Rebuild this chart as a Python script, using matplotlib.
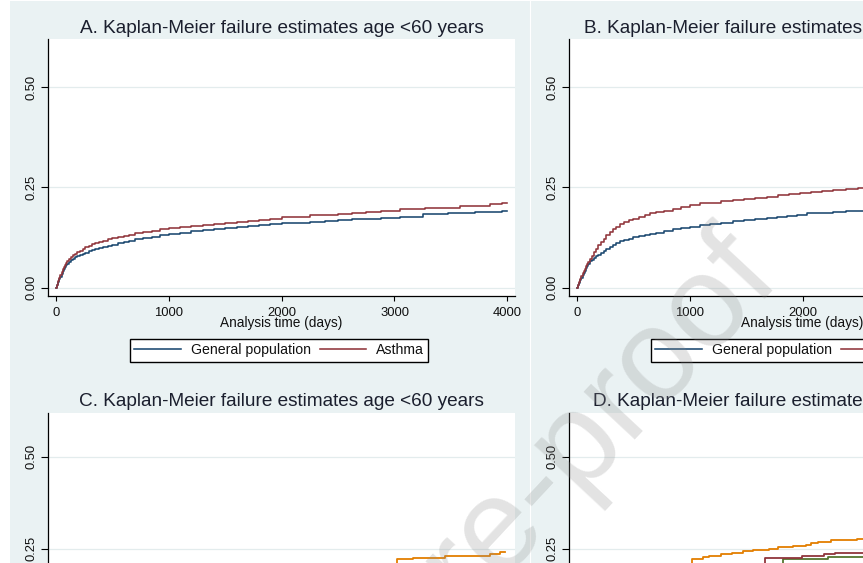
import matplotlib
matplotlib.use("Agg")
import matplotlib.pyplot as plt
from matplotlib.patches import Rectangle
from matplotlib.lines import Line2D

plt.rcParams["font.family"] = ["Liberation Sans", "DejaVu Sans"]

# ---------------- data ----------------
legend_labels = ["General population", "Asthma"]
x_ticks = [0, 1000, 2000, 3000, 4000]
y_ticks = [0.0, 0.25, 0.50]
y_tick_labels = ["0.00", "0.25", "0.50"]
x_label = "Analysis time (days)"
titles = ["A. Kaplan-Meier failure estimates age <60 years",
          "B. Kaplan-Meier failure estimates age >=60 years",
          "C. Kaplan-Meier failure estimates age <60 years",
          "D. Kaplan-Meier failure estimates age >=60 years"]
watermark = "Journal Pre-proof"

a_general_days = [0, 10, 20, 30, 40, 50, 60, 70, 80, 90, 100, 115, 130, 150,
                  170, 190, 210, 235, 260, 290, 320, 350, 385, 420, 460, 500,
                  550, 600, 650, 700, 775, 850, 925, 1000, 1100, 1200, 1300,
                  1400, 1500, 1600, 1700, 1800, 1900, 2000, 2120, 2250, 2380,
                  2500, 2620, 2750, 2880, 3050, 3256, 3478, 3714, 3949, 4000]
a_general = [0, .006, .013, .020, .027, .034, .040, .046, .051, .055, .059,
             .064, .068, .072, .075, .078, .081, .084, .087, .090, .093, .095,
             .098, .101, .104, .107, .110, .114, .117, .120, .124, .127, .131,
             .134, .137, .140, .143, .146, .148, .150, .153, .155, .158, .160,
             .162, .164, .166, .168, .170, .172, .174, .177, .183, .187, .189,
             .192, .192]

a_asthma_days = [0, 10, 20, 30, 40, 50, 60, 70, 80, 90, 100, 115, 130, 150,
                 170, 190, 210, 235, 260, 290, 320, 350, 385, 420, 460, 500,
                 550, 600, 650, 700, 775, 850, 925, 1000, 1100, 1200, 1300,
                 1400, 1500, 1600, 1700, 1800, 1900, 2000, 2120, 2250, 2380,
                 2500, 2620, 2750, 2880, 3049, 3270, 3580, 3846, 3949, 4000]
a_asthma = [0, .007, .015, .023, .031, .039, .046, .052, .057, .062, .066,
            .071, .076, .080, .084, .088, .092, .096, .100, .104, .108, .111,
            .114, .117, .120, .123, .126, .129, .132, .135, .139, .142, .145,
            .148, .151, .154, .157, .159, .162, .164, .167, .169, .172, .175,
            .177, .180, .182, .184, .186, .188, .191, .195, .199, .204, .209,
            .2116, .2116]

b_general_days = [0, 10, 20, 30, 40, 50, 60, 70, 80, 90, 100, 115, 130, 150,
                  170, 190, 210, 235, 260, 290, 320, 350, 385, 420, 460, 500,
                  550, 600, 650, 700, 775, 850, 925, 1000, 1090, 1180, 1280,
                  1380, 1476, 1580, 1680, 1770, 1862, 1950, 2040, 2150, 2271,
                  2380, 2491, 2600]
b_general = [0, .006, .012, .018, .024, .030, .036, .042, .048, .054, .059,
             .065, .069, .074, .078, .082, .086, .091, .096, .102, .107, .111,
             .115, .119, .122, .125, .128, .131, .134, .137, .142, .145, .149,
             .152, .156, .159, .162, .165, .168, .171, .174, .177, .179, .182,
             .185, .187, .189, .190, .1917, .1917]

b_asthma_days = [0, 10, 20, 30, 40, 50, 60, 70, 80, 90, 100, 115, 130, 150,
                 170, 190, 210, 235, 260, 290, 320, 350, 385, 420, 460, 500,
                 550, 600, 650, 700, 775, 850, 925, 1005, 1090, 1180, 1280,
                 1385, 1480, 1580, 1680, 1780, 1880, 1976, 2070, 2170, 2271,
                 2380, 2491, 2600]
b_asthma = [0, .007, .014, .021, .028, .035, .041, .047, .053, .058, .063,
            .071, .079, .088, .097, .106, .114, .122, .130, .138, .146, .152,
            .158, .163, .168, .172, .177, .181, .185, .188, .192, .196, .200,
            .206, .210, .212, .215, .218, .221, .224, .227, .230, .233, .237,
            .239, .241, .243, .246, .249, .249]

c_orange_days = [0, 3020, 3168, 3449, 3848, 3936, 3980]
c_orange = [0, 0.2236, 0.2263, 0.2309, 0.2355, 0.2410, 0.2426]

d_orange_days = [0, 1016, 1120, 1173, 1273, 1371, 1468, 1563, 1705, 1784, 1917,
                 2030, 2074, 2139, 2248, 2479, 2600]
d_orange = [0, 0.2236, 0.2273, 0.2318, 0.2364, 0.2399, 0.2427, 0.2464, 0.2500,
            0.2536, 0.2573, 0.2609, 0.2645, 0.2682, 0.2727, 0.2764, 0.2764]
d_maroon_days = [0, 1666, 1991, 2189, 2287, 2600]
d_maroon = [0, 0.2245, 0.2309, 0.2355, 0.2399, 0.2399]
d_green_days = [0, 1829, 2227, 2600]
d_green = [0, 0.2227, 0.2273, 0.2273]

# ---------------- styling ----------------
NAVY = "#1A476F"
MAROON = "#90353B"
GREEN = "#55752F"
ORANGE = "#E37E00"
BG = "#EAF2F3"
TXT = "#1B1F2E"

W, H = 863, 563
fig = plt.figure(figsize=(W / 100, H / 100), dpi=100)
fig.patch.set_facecolor("white")
fig.add_artist(Rectangle((9.5 / W, 0), 1, 1 - 1.0 / H, transform=fig.transFigure,
                         facecolor=BG, edgecolor="none", zorder=-5))
fig.add_artist(Line2D([530 / W, 530 / W], [0, 1 - 1.0 / H], transform=fig.transFigure,
                      color="white", lw=0.8, zorder=-4))


def px_axes(x0, y0, x1, y1):
    return fig.add_axes([x0 / W, 1 - y1 / H, (x1 - x0) / W, (y1 - y0) / H])


def style(ax):
    ax.set_facecolor("white")
    ax.set_xlim(-69, 4068)
    ax.set_ylim(-0.0212, 0.6195)
    ax.set_xticks(x_ticks)
    ax.set_yticks(y_ticks)
    ax.set_yticklabels(y_tick_labels)
    for s in ["top", "right"]:
        ax.spines[s].set_visible(False)
    for s in ["left", "bottom"]:
        ax.spines[s].set_linewidth(0.9)
        ax.spines[s].set_color("black")
    ax.grid(axis="y", color="#E3ECED", lw=0.9)
    ax.grid(axis="x", visible=False)
    ax.set_axisbelow(True)
    ax.tick_params(axis="x", length=3.6, width=0.8, pad=4.6, labelsize=9.4,
                   colors="black", labelcolor="#111111")
    ax.tick_params(axis="y", length=4.7, width=0.8, pad=2.8, labelsize=9.4,
                   labelrotation=90, colors="black", labelcolor="#111111")
    for lab in ax.get_yticklabels():
        lab.set_va("center")
    ax.set_xlabel(x_label, fontsize=9.8, labelpad=-2.4, color="#111111")


DX = 521
axA = px_axes(48.2, 39.2, 515, 296)
axB = px_axes(48.2 + DX, 39.2, 515 + DX, 296)
axC = px_axes(48.2, 413, 515, 648.5)
axD = px_axes(48.2 + DX, 413, 515 + DX, 648.5)
for ax in (axA, axB, axC, axD):
    style(ax)

LW = 1.15
axA.plot(a_general_days, a_general, drawstyle="steps-post", color=NAVY, lw=LW)
axA.plot(a_asthma_days, a_asthma, drawstyle="steps-post", color=MAROON, lw=LW)
axB.plot(b_general_days, b_general, drawstyle="steps-post", color=NAVY, lw=LW)
axB.plot(b_asthma_days, b_asthma, drawstyle="steps-post", color=MAROON, lw=LW)
axC.plot(c_orange_days, c_orange, drawstyle="steps-post", color=ORANGE, lw=1.3)
axD.plot(d_green_days, d_green, drawstyle="steps-post", color=GREEN, lw=1.3)
axD.plot(d_maroon_days, d_maroon, drawstyle="steps-post", color=MAROON, lw=1.3)
axD.plot(d_orange_days, d_orange, drawstyle="steps-post", color=ORANGE, lw=1.3)

# titles
axA.set_title(titles[0], fontsize=13.7, pad=4.7, color=TXT)
axC.set_title(titles[2], fontsize=13.7, pad=4.7, color=TXT)
fig.text(584 / W, 1 - 32.7 / H, titles[1], fontsize=13.7, color=TXT,
         ha="left", va="baseline")
fig.text(592.6 / W, 1 - 406.5 / H, titles[3], fontsize=13.7, color=TXT,
         ha="left", va="baseline")

# legends
for x0 in (130, 130 + DX):
    handles = [Line2D([], [], color=NAVY, lw=LW), Line2D([], [], color=MAROON, lw=LW)]
    leg = fig.legend(handles, legend_labels, loc="upper left",
                     bbox_to_anchor=(x0 / W, 1 - 339 / H),
                     bbox_transform=fig.transFigure, ncol=2, frameon=True,
                     fancybox=False, edgecolor="black", facecolor="white",
                     framealpha=1, fontsize=10.2, handlelength=3.3,
                     handletextpad=0.68, columnspacing=0.64, borderpad=0.3,
                     borderaxespad=0, labelcolor="#111111")
    leg.get_frame().set_linewidth(1.0)

# watermark
fig.text(783 / W, 1 - 281 / H, watermark, fontsize=94, color="#8C8C8C", alpha=0.24,
         rotation=47, rotation_mode="anchor", ha="right", va="baseline", zorder=50)

fig.savefig("out.png", dpi=100, facecolor="white")
